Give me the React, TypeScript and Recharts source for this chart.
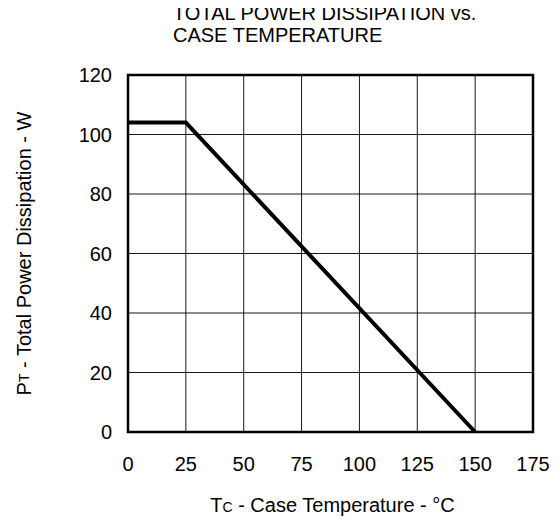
import {
  LineChart,
  Line,
  XAxis,
  YAxis,
  CartesianGrid,
  ReferenceArea,
  Label,
} from "recharts";

const caseTemp = [0, 25, 150];
const powerW = [104, 104, 0];
const xTicks = [0, 25, 50, 75, 100, 125, 150, 175];
const yTicks = [0, 20, 40, 60, 80, 100, 120];
const titleLines = ["TOTAL POWER DISSIPATION vs.", "CASE TEMPERATURE"];

const data = caseTemp.map((t, i) => ({ t, p: powerW[i] }));

const FONT = '"Liberation Sans", Arial, sans-serif';
const W = 552;
const H = 515;

function YTitle({ viewBox }: any) {
  const x = viewBox.x + 16;
  const y = viewBox.y + viewBox.height / 2;
  return (
    <text
      x={x}
      y={y}
      transform={`rotate(-90 ${x} ${y})`}
      textAnchor="middle"
      dominantBaseline="central"
      fontFamily={FONT}
      fontSize={20}
      fill="#000"
    >
      P<tspan fontSize={14}>T</tspan> - Total Power Dissipation - W
    </text>
  );
}

function XTitle({ viewBox }: any) {
  return (
    <text
      x={viewBox.x + viewBox.width / 2 + 2}
      y={viewBox.y + 80}
      textAnchor="middle"
      fontFamily={FONT}
      fontSize={20}
      fill="#000"
    >
      T<tspan fontSize={14}>C</tspan> - Case Temperature - °C
    </text>
  );
}

export default function App() {
  const tickStyle = { fontFamily: FONT, fontSize: 20, fill: "#000" };
  return (
    <div style={{ position: "relative", width: W, height: H }}>
      <LineChart
        width={W}
        height={H}
        data={data}
        margin={{ top: 67, right: 27, bottom: 0, left: 0 }}
      >
        <CartesianGrid stroke="#000" strokeWidth={1} strokeOpacity={0.9} />
        <XAxis
          dataKey="t"
          type="number"
          domain={[0, 175]}
          ticks={xTicks}
          height={91}
          tickLine={false}
          tickSize={0}
          tickMargin={25}
          axisLine={false}
          tick={tickStyle}
          interval={0}
        >
          <Label content={<XTitle />} />
        </XAxis>
        <YAxis
          type="number"
          domain={[0, 120]}
          ticks={yTicks}
          width={120}
          tickLine={false}
          tickSize={0}
          tickMargin={16}
          axisLine={false}
          tick={tickStyle}
          interval={0}
        >
          <Label content={<YTitle />} />
        </YAxis>
        <ReferenceArea
          x1={0}
          x2={175}
          y1={0}
          y2={120}
          fill="none"
          stroke="#000"
          strokeWidth={2.5}
          ifOverflow="visible"
        />
        <Line
          dataKey="p"
          stroke="#000"
          strokeWidth={4}
          dot={false}
          isAnimationActive={false}
        />
      </LineChart>
      <svg
        width={560}
        height={60}
        style={{ position: "absolute", left: -8, top: -8, pointerEvents: "none" }}
      >
        {titleLines.map((line, i) => (
          <text
            key={line}
            x={173}
            y={20 + i * 22}
            fontFamily={FONT}
            fontSize={20}
            fill="#000"
          >
            {line}
          </text>
        ))}
      </svg>
    </div>
  );
}
